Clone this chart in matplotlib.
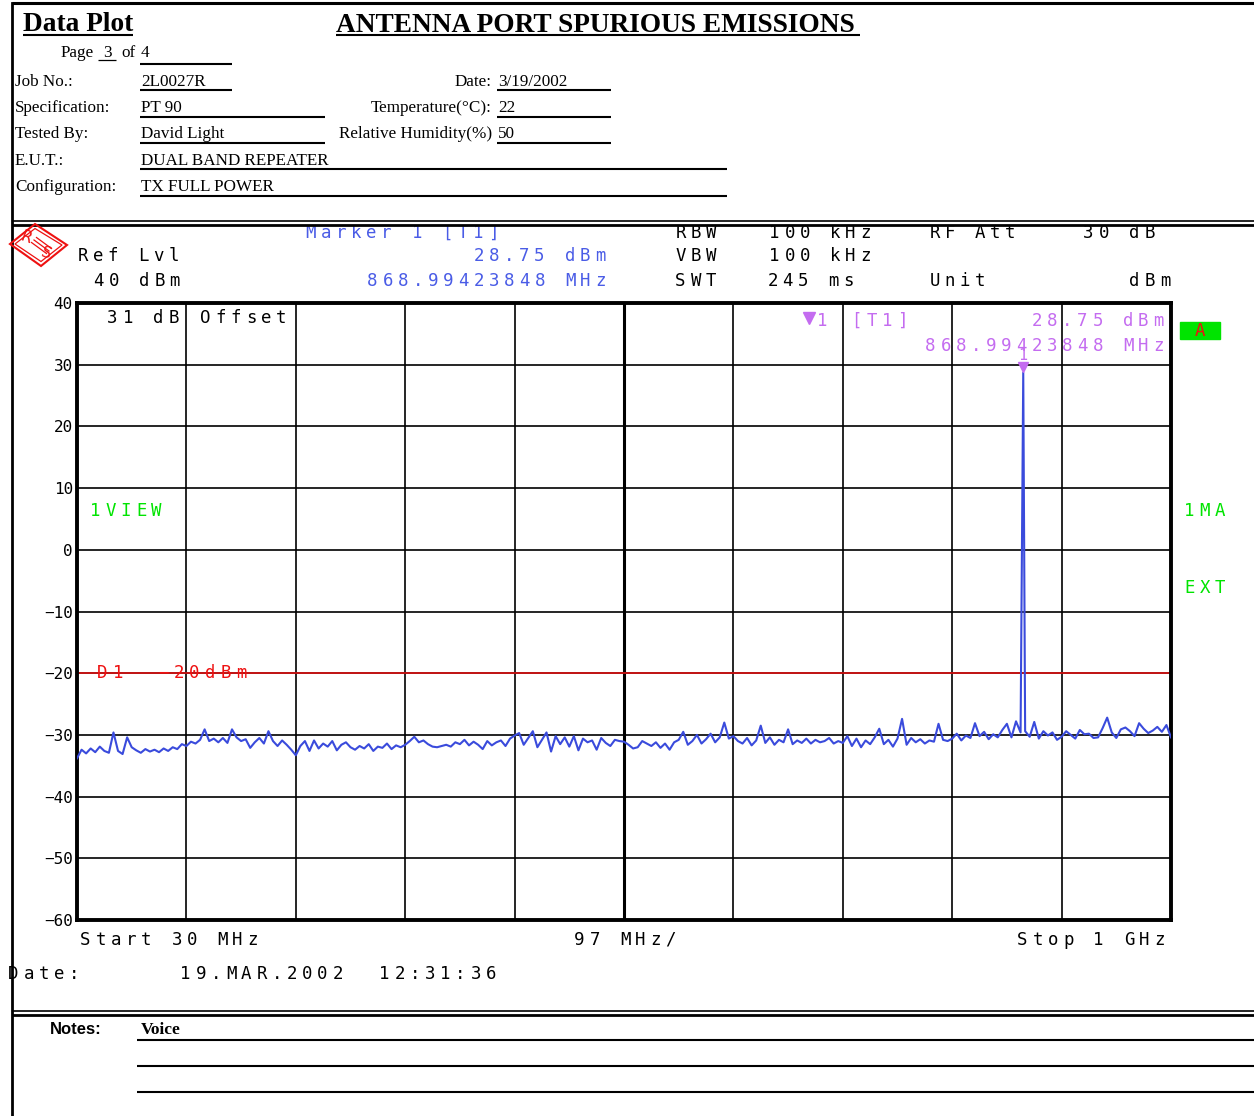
import matplotlib
matplotlib.use('Agg')
import matplotlib.pyplot as plt
import numpy as np
from matplotlib.transforms import offset_copy
from matplotlib.patches import Polygon, Rectangle

W, H = 1254, 1116

# sweep settings
start_mhz = 30.0
stop_mhz = 1000.0
mhz_per_div = 97.0
ref_level = 40
display_line = -20
marker_mhz = 868.99423848
marker_dbm = 28.75

# trace levels in dBm, one list per horizontal division
div1 = [-33.8, -32.4, -33.0, -32.2, -32.8, -31.9, -32.6, -32.9, -29.6, -32.6, -33.1, -30.4,
        -32.0, -32.5, -32.9, -32.3, -32.7, -32.4, -32.8, -32.2, -32.6, -32.0, -32.3, -31.5]
div2 = [-31.8, -31.1, -31.4, -30.8, -29.1, -31.0, -30.6, -31.2, -30.5, -31.3, -29.1, -30.4,
        -31.0, -30.7, -32.1, -31.2, -30.5, -31.4, -29.4, -31.0, -31.8, -30.9, -31.6, -32.4]
div3 = [-33.3, -31.8, -31.0, -32.6, -30.9, -32.2, -31.4, -31.9, -31.0, -32.5, -31.6, -31.2,
        -32.0, -32.4, -31.8, -32.2, -31.5, -32.6, -31.9, -32.1, -31.4, -32.3, -31.7, -32.0]
div4 = [-31.6, -31.0, -30.3, -31.2, -30.9, -31.5, -31.9, -32.0, -31.8, -31.6, -31.9, -31.2,
        -31.5, -30.8, -31.7, -31.1, -31.6, -32.3, -31.0, -31.7, -31.2, -30.9, -31.8, -30.6]
div5 = [-30.1, -29.7, -31.6, -30.5, -29.4, -32.0, -30.8, -29.6, -32.7, -30.2, -31.5, -30.4,
        -31.9, -30.2, -32.5, -30.6, -31.2, -30.9, -32.4, -30.5, -31.3, -31.8, -30.8, -31.0]
div6 = [-31.1, -31.6, -32.2, -32.0, -31.0, -31.4, -31.8, -31.2, -32.1, -31.4, -32.4, -31.2,
        -30.8, -29.5, -31.6, -31.0, -30.0, -31.4, -30.7, -29.8, -31.2, -30.4, -28.0, -30.6]
div7 = [-30.2, -31.0, -31.4, -30.5, -31.7, -30.9, -28.5, -31.3, -30.4, -31.6, -30.8, -31.2,
        -29.1, -31.5, -30.9, -31.3, -30.6, -31.4, -30.8, -31.2, -31.0, -30.5, -31.4, -31.0]
div8 = [-31.3, -30.2, -31.8, -30.6, -32.0, -30.9, -31.5, -30.4, -29.0, -31.5, -30.8, -31.9,
        -30.6, -27.4, -31.6, -30.5, -31.2, -30.7, -31.4, -30.9, -31.1, -28.2, -30.8, -31.0]
div9 = [-30.6, -29.8, -30.9, -30.1, -30.5, -28.1, -30.2, -29.5, -30.7, -29.9, -30.4, -29.2,
        -28.2, -30.4, -27.8, -29.6, -29.4, -30.3, -27.9, -30.6, -29.4, -30.1, -29.6, -30.8]
div10 = [-30.3, -29.4, -30.0, -30.6, -29.2, -29.9, -29.8, -30.5, -30.4, -28.9, -27.2, -29.6,
         -30.5, -29.1, -28.8, -29.4, -30.2, -28.1, -29.0, -29.7, -29.3, -28.7, -29.5, -28.4]
last = [-30.4]

# carrier seen at the marker
spike_mhz = [marker_mhz]
spike_dbm = [marker_dbm]

BLUE = '#4a5ce6'
TRACE = '#3a4bdc'
MAGENTA = '#c46cf0'
GREEN = '#00e400'
RED = '#ee1111'
MONO = 'DejaVu Sans Mono'

fig = plt.figure(figsize=(W / 100, H / 100), dpi=100)
fig.patch.set_facecolor('white')

# spectrum graticule
ax = fig.add_axes([77 / W, (H - 920) / H, 1094 / W, 617 / H])
levels = np.array(div1 + div2 + div3 + div4 + div5 + div6 + div7 + div8
                  + div9 + div10 + last)
freqs = np.linspace(start_mhz, stop_mhz, len(levels))
f_all = np.concatenate([freqs, spike_mhz])
l_all = np.concatenate([levels, spike_dbm])
order = np.argsort(f_all, kind='stable')
ax.plot(f_all[order], l_all[order], color=TRACE, lw=1.5, zorder=3)
ax.axhline(display_line, color=RED, lw=1.1, zorder=2)
ax.axvline(start_mhz + 5 * mhz_per_div, color='black', lw=2.2, zorder=1)

ax.set_xlim(start_mhz, stop_mhz)
ax.set_ylim(-60, ref_level)
ax.set_xticks(start_mhz + mhz_per_div * np.arange(11))
ax.set_xticklabels([])
ax.set_yticks(np.arange(-60, ref_level + 1, 10))
ax.tick_params(length=0, pad=3, labelsize=11.5, labelfontfamily=MONO)
ax.grid(True, color='black', lw=1.2)
ax.set_axisbelow(True)
for sp in ax.spines.values():
    sp.set_linewidth(2.8)

ax.plot([marker_mhz], [marker_dbm], marker='v', ms=7, color=MAGENTA,
        transform=offset_copy(ax.transData, fig, y=4, units='points'),
        clip_on=False, zorder=4)
ax.annotate('1', (marker_mhz, marker_dbm), xytext=(0, 12),
            textcoords='offset points', ha='center', va='center',
            color=MAGENTA, fontsize=11, family=MONO)

# page overlay in pixel coordinates
page = fig.add_axes([0, 0, 1, 1], zorder=5)
page.set_xlim(0, W)
page.set_ylim(H, 0)
page.axis('off')
page.patch.set_visible(False)


def mono(x, y, s, color='black', pitch=15.2, size=12.5):
    for i, ch in enumerate(s):
        if ch == ' ':
            continue
        page.text(x + (i + 0.5) * pitch, y, ch, ha='center', va='center',
                  family=MONO, fontsize=size, color=color)


def serif(x, y, s, size=12.3, weight='normal', ha='left'):
    page.text(x, y, s, ha=ha, va='baseline', family='Liberation Serif',
              fontsize=size, fontweight=weight, color='black')


def hline(y, x0, x1, lw=1.5, z=2):
    page.plot([x0, x1], [y, y], color='black', lw=lw, solid_capstyle='butt',
              zorder=z)


# frame of the sheet
hline(3, 12, W, lw=2.2)
page.plot([12, 12], [3, H], color='black', lw=2.0, zorder=6)
page.add_patch(Rectangle((13, 200), W, 24.5, color='white', zorder=4))
hline(221, 12, W, lw=1.2, z=5)
hline(225, 12, W, lw=2.0, z=5)
hline(1011, 12, W, lw=1.2)
hline(1015, 12, W, lw=2.0)

# header block
serif(23, 31, 'Data Plot', size=19.7, weight='bold')
hline(35, 23, 133, lw=1.5)
serif(336, 32, 'ANTENNA PORT SPURIOUS EMISSIONS', size=19.7, weight='bold')
hline(35, 336, 860, lw=1.5)

serif(61, 57, 'Page')
serif(103, 57, '3')
hline(59.5, 98, 116, lw=0.9)
serif(121, 57, 'of')
serif(141, 57, '4')
hline(64, 140, 232)

rows = [('Job No.:', '2L0027R', 86, 90, 232),
        ('Specification:', 'PT 90', 112, 116.5, 325),
        ('Tested By:', 'David Light', 138, 143, 325),
        ('E.U.T.:', 'DUAL BAND REPEATER', 165, 169, 727),
        ('Configuration:', 'TX FULL POWER', 191, 196, 727)]
for label, value, yb, yl, x_end in rows:
    serif(15, yb, label)
    serif(141, yb, value)
    hline(yl, 140, x_end)

right_rows = [('Date:', '3/19/2002', 86, 90),
              ('Temperature(°C):', '22', 112, 117),
              ('Relative Humidity(%)', '50', 138, 143)]
for label, value, yb, yl in right_rows:
    serif(492, yb, label, ha='right')
    serif(498, yb, value)
    hline(yl, 497, 611)

# analyzer logo
outer = [(10, 244), (35, 224), (67, 245), (41, 266)]
inner = [(15, 244), (35, 228.5), (62, 245), (41, 261.5)]
page.add_patch(Polygon(outer, closed=True, fill=False, ec=RED, lw=1.5, zorder=6))
page.add_patch(Polygon(inner, closed=True, fill=False, ec=RED, lw=0.9, zorder=6))
for d in (-2.5, 0, 2.5):
    page.plot([34 + d, 49 + d], [240 - d, 251 - d], color=RED, lw=0.9, zorder=6)
page.text(26, 238, 'R', color=RED, fontsize=11, family='DejaVu Sans',
          ha='center', va='center', rotation=-20, zorder=6)
page.text(46, 253, 'S', color=RED, fontsize=11, family='DejaVu Sans',
          ha='center', va='center', rotation=-20, zorder=6)

# analyzer settings header
mono(303, 233, 'Marker 1 [T1]', BLUE)
mono(75, 256, 'Ref Lvl')
mono(471, 256, f'{marker_dbm:.2f} dBm', BLUE)
mono(91, 281, f'{ref_level} dBm')
mono(365, 281, f'{marker_mhz:.8f} MHz', BLUE)
mono(673, 233, 'RBW')
mono(767, 233, '100 kHz')
mono(927, 233, 'RF Att')
mono(1081, 233, '30 dB')
mono(673, 256, 'VBW')
mono(767, 256, '100 kHz')
mono(673, 281, 'SWT')
mono(765, 281, '245 ms')
mono(927, 281, 'Unit')
mono(1127, 281, 'dBm')

# annotations on the graticule
mono(105, 318, '31 dB')
mono(198, 318, 'Offset')
page.plot([809], [318], marker='v', ms=8, color=MAGENTA)
mono(815, 321, '1', MAGENTA)
mono(849, 321, '[T1]', MAGENTA)
mono(1166 - 9 * 15.2, 321, f'{marker_dbm:.2f} dBm', MAGENTA)
mono(923, 346, f'{marker_mhz:.8f} MHz', MAGENTA)
page.add_patch(Rectangle((1180, 322), 40, 17, color=GREEN))
mono(1192.5, 330.5, 'A', RED)
mono(88, 511, '1VIEW', GREEN)
mono(1182, 511, '1MA', GREEN)
mono(1182, 588, 'EXT', GREEN)
mono(95, 673, 'D1', RED)
mono(156, 673, f'\u2212{abs(display_line)}', RED)
mono(203, 673, 'dBm', RED)

mono(78, 940, f'Start {start_mhz:.0f} MHz')
mono(572, 940, f'{mhz_per_div:.0f} MHz/')
mono(1015, 940, 'Stop 1 GHz')
mono(6, 974, 'Date:')
mono(178, 974, '19.MAR.2002')
mono(377, 974, '12:31:36')

# notes block
page.text(50, 1034, 'Notes:', family='Liberation Sans', fontsize=12,
          fontweight='bold', va='baseline')
serif(141, 1034, 'Voice', size=12.5, weight='bold')
for y in (1040, 1066, 1092):
    hline(y, 137, W)

fig.savefig('out.png', dpi=100, facecolor='white')
